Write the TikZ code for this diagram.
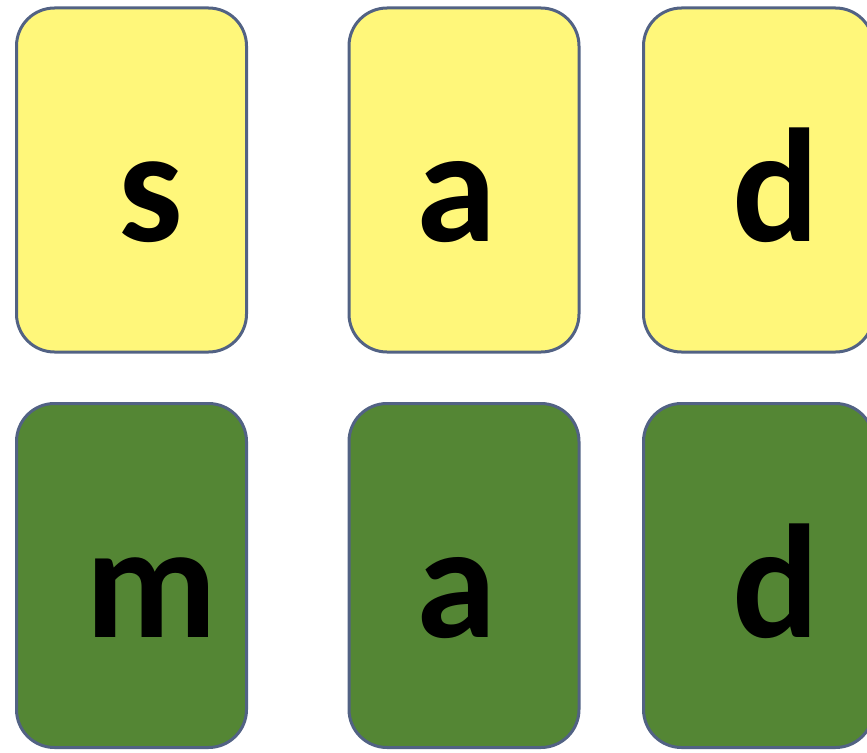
\documentclass[tikz,border=0pt]{standalone}
\usepackage{fontspec}
\setmainfont{Carlito}
\definecolor{CardYellow}{RGB}{255,247,122}
\definecolor{CardGreen}{RGB}{84,134,52}
\definecolor{CardEdge}{RGB}{82,98,132}
\tikzset{
  card/.style={draw=CardEdge,rounded corners=38pt,line width=3pt,
    minimum width=230pt,minimum height=344pt,inner sep=0pt},
  topcard/.style={card,fill=CardYellow},
  bottomcard/.style={card,fill=CardGreen},
  letter/.style={anchor=base,inner sep=0pt,
    font=\bfseries\fontsize{162}{162}\selectfont}
}
\begin{document}
\begin{tikzpicture}[x=1pt,y=-1pt]
        \useasboundingbox (0,0) rectangle (867,752);
        \clip (0,0) rectangle (867,752);
        % top row
        \node[topcard] (s1) at (131.5,180) {};
        \node[topcard] (a1) at (464,180) {};
        \node[topcard] (d1) at (758.5,180) {};
        % bottom row
        \node[bottomcard] (m2) at (131.5,575.5) {};
        \node[bottomcard] (a2) at (464,575.5) {};
        \node[bottomcard] (d2) at (758.5,575.5) {};
        % letters
        \node[letter] (ls1) at (151,241) {s};
        \node[letter] (la1) at (456,241) {a};
        \node[letter] (ld1) at (776,241) {d};
        \node[letter] (lm2) at (151,637) {m};
        \node[letter] (la2) at (456,637) {a};
        \node[letter] (ld2) at (776,637) {d};
      \end{tikzpicture}
\end{document}
